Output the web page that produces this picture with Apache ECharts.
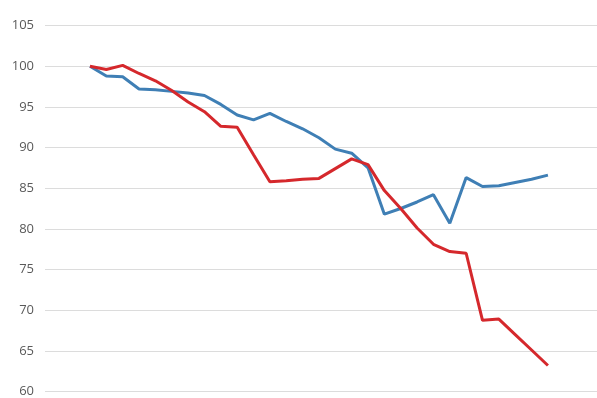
<!DOCTYPE html>
<html>
<head>
<meta charset="utf-8">
<script src="https://cdn.jsdelivr.net/npm/echarts@6/dist/echarts.min.js"></script>
<style>html,body{margin:0;padding:0;background:#fff}#c{width:597px;height:398px}</style>
</head>
<body>
<div id="c"></div>
<script>
const periods = [0,1,2,3,4,5,6,7,8,9,10,11,12,13,14,15,16,17,18,19,20,21,22,23,24,25,26,27,28];
const blueValues = [100,98.8,98.7,97.2,97.1,96.9,96.7,96.4,95.3,94.0,93.4,94.2,93.2,92.3,91.2,89.8,89.3,87.5,81.8,82.5,83.3,84.2,80.7,86.3,85.2,85.3,85.7,86.1,86.6];
const redValues = [100,99.6,100.1,99.1,98.2,97.0,95.6,94.4,92.6,92.5,89.1,85.8,85.9,86.1,86.2,87.4,88.6,87.9,84.7,82.5,80.1,78.1,77.2,77.0,68.75,68.9,67.0,65.1,63.2];
const yTicks = [60,65,70,75,80,85,90,95,100,105];

const chart = echarts.init(document.getElementById('c'), null, {renderer:'canvas'});
chart.setOption({
  animation:false,
  backgroundColor:'#fff',
  grid:{left:45,right:0,top:25.5,bottom:4.5,containLabel:false},
  xAxis:{type:'value',min:-2.75,max:31,show:false,splitLine:{show:false}},
  yAxis:{type:'value',min:yTicks[0],max:yTicks[yTicks.length-1],interval:5,
    axisLine:{show:false},axisTick:{show:false},
    axisLabel:{color:'#5a5a5a',fontSize:13,fontFamily:'Open Sans',margin:11},
    splitLine:{lineStyle:{color:'#dcdcdc',width:1}}},
  series:[
    {type:'line',data:periods.map((p,i)=>[p,blueValues[i]]),symbol:'none',
     lineStyle:{color:'#3f7fb5',width:3},z:2},
    {type:'line',data:periods.map((p,i)=>[p,redValues[i]]),symbol:'none',
     lineStyle:{color:'#d5282c',width:3},z:3}
  ]
});
</script>
</body>
</html>
